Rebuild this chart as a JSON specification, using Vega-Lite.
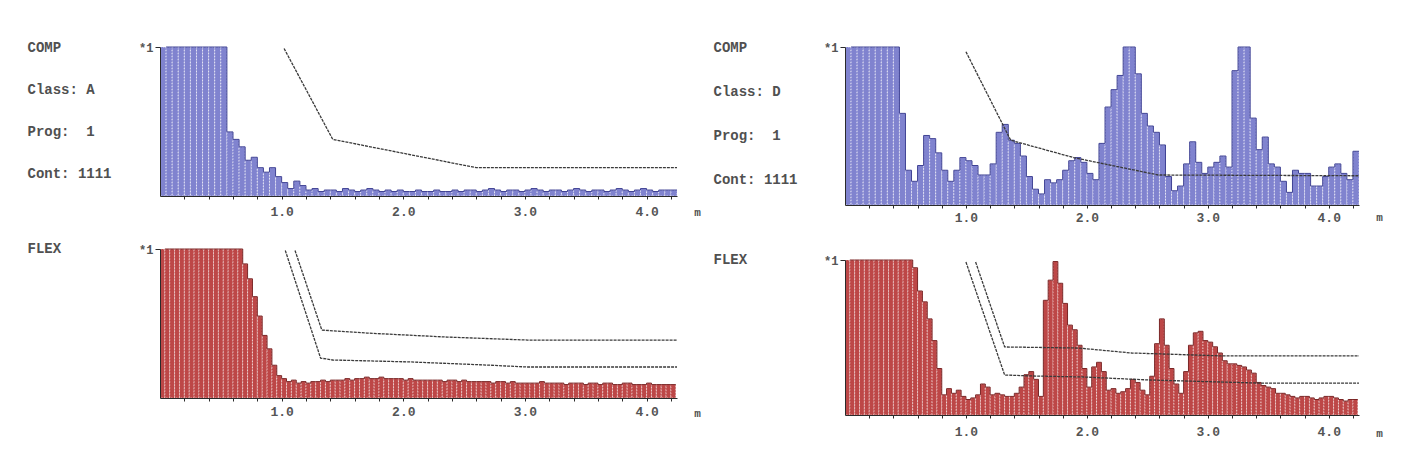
{
  "$schema": "https://vega.github.io/schema/vega-lite/v6.json",
  "background": "white",
  "padding": {"left": 27, "top": 40, "right": 10, "bottom": 10},
  "config": {
    "view": {"stroke": null},
    "axis": {"grid": false, "domainColor": "#2b2b2b", "tickColor": "#2b2b2b", "labelFont": "Liberation Mono", "labelFontSize": 13, "labelFontWeight": "bold", "labelColor": "#555555", "titleFont": "Liberation Mono", "titleFontSize": 14, "titleFontWeight": "bold", "titleColor": "#505050", "labelFlush": false}
  },
  "datasets": {
    "compA": [
      {"s":0,"e":0.05,"v":1},{"s":0.05,"e":0.1,"v":1},{"s":0.1,"e":0.15,"v":1},{"s":0.15,"e":0.2,"v":1},{"s":0.2,"e":0.25,"v":1},
      {"s":0.25,"e":0.3,"v":1},{"s":0.3,"e":0.35,"v":1},{"s":0.35,"e":0.4,"v":1},{"s":0.4,"e":0.45,"v":1},{"s":0.45,"e":0.5,"v":1},
      {"s":0.5,"e":0.55,"v":1},{"s":0.55,"e":0.6,"v":0.43},{"s":0.6,"e":0.65,"v":0.38},{"s":0.65,"e":0.7,"v":0.33},{"s":0.7,"e":0.75,"v":0.24},
      {"s":0.75,"e":0.8,"v":0.26},{"s":0.8,"e":0.85,"v":0.19},{"s":0.85,"e":0.9,"v":0.16},{"s":0.9,"e":0.95,"v":0.19},{"s":0.95,"e":1,"v":0.13},
      {"s":1,"e":1.05,"v":0.09},{"s":1.05,"e":1.1,"v":0.05},{"s":1.1,"e":1.15,"v":0.1},{"s":1.15,"e":1.2,"v":0.07},{"s":1.2,"e":1.25,"v":0.04},
      {"s":1.25,"e":1.3,"v":0.05},{"s":1.3,"e":1.35,"v":0.03},{"s":1.35,"e":1.4,"v":0.04},{"s":1.4,"e":1.45,"v":0.04},{"s":1.45,"e":1.5,"v":0.03},
      {"s":1.5,"e":1.55,"v":0.05},{"s":1.55,"e":1.6,"v":0.04},{"s":1.6,"e":1.65,"v":0.03},{"s":1.65,"e":1.7,"v":0.04},{"s":1.7,"e":1.75,"v":0.05},
      {"s":1.75,"e":1.8,"v":0.04},{"s":1.8,"e":1.85,"v":0.03},{"s":1.85,"e":1.9,"v":0.04},{"s":1.9,"e":1.95,"v":0.03},{"s":1.95,"e":2,"v":0.04},
      {"s":2,"e":2.05,"v":0.03},{"s":2.05,"e":2.1,"v":0.03},{"s":2.1,"e":2.15,"v":0.04},{"s":2.15,"e":2.2,"v":0.03},{"s":2.2,"e":2.25,"v":0.03},
      {"s":2.25,"e":2.3,"v":0.04},{"s":2.3,"e":2.35,"v":0.03},{"s":2.35,"e":2.4,"v":0.03},{"s":2.4,"e":2.45,"v":0.04},{"s":2.45,"e":2.5,"v":0.03},
      {"s":2.5,"e":2.55,"v":0.04},{"s":2.55,"e":2.6,"v":0.04},{"s":2.6,"e":2.65,"v":0.03},{"s":2.65,"e":2.7,"v":0.04},{"s":2.7,"e":2.75,"v":0.05},
      {"s":2.75,"e":2.8,"v":0.04},{"s":2.8,"e":2.85,"v":0.03},{"s":2.85,"e":2.9,"v":0.04},{"s":2.9,"e":2.95,"v":0.04},{"s":2.95,"e":3,"v":0.03},
      {"s":3,"e":3.05,"v":0.04},{"s":3.05,"e":3.1,"v":0.05},{"s":3.1,"e":3.15,"v":0.04},{"s":3.15,"e":3.2,"v":0.03},{"s":3.2,"e":3.25,"v":0.04},
      {"s":3.25,"e":3.3,"v":0.04},{"s":3.3,"e":3.35,"v":0.03},{"s":3.35,"e":3.4,"v":0.04},{"s":3.4,"e":3.45,"v":0.05},{"s":3.45,"e":3.5,"v":0.04},
      {"s":3.5,"e":3.55,"v":0.03},{"s":3.55,"e":3.6,"v":0.04},{"s":3.6,"e":3.65,"v":0.04},{"s":3.65,"e":3.7,"v":0.03},{"s":3.7,"e":3.75,"v":0.04},
      {"s":3.75,"e":3.8,"v":0.05},{"s":3.8,"e":3.85,"v":0.04},{"s":3.85,"e":3.9,"v":0.03},{"s":3.9,"e":3.95,"v":0.04},{"s":3.95,"e":4,"v":0.05},
      {"s":4,"e":4.05,"v":0.04},{"s":4.05,"e":4.1,"v":0.03},{"s":4.1,"e":4.15,"v":0.04},{"s":4.15,"e":4.2,"v":0.04},{"s":4.2,"e":4.25,"v":0.04}
    ],
    "compD": [
      {"s":0,"e":0.05,"v":1},{"s":0.05,"e":0.1,"v":1},{"s":0.1,"e":0.15,"v":1},{"s":0.15,"e":0.2,"v":1},{"s":0.2,"e":0.25,"v":1},
      {"s":0.25,"e":0.3,"v":1},{"s":0.3,"e":0.35,"v":1},{"s":0.35,"e":0.4,"v":1},{"s":0.4,"e":0.45,"v":1},{"s":0.45,"e":0.5,"v":0.58},
      {"s":0.5,"e":0.55,"v":0.22},{"s":0.55,"e":0.6,"v":0.15},{"s":0.6,"e":0.65,"v":0.25},{"s":0.65,"e":0.7,"v":0.44},{"s":0.7,"e":0.75,"v":0.42},
      {"s":0.75,"e":0.8,"v":0.33},{"s":0.8,"e":0.85,"v":0.22},{"s":0.85,"e":0.9,"v":0.15},{"s":0.9,"e":0.95,"v":0.22},{"s":0.95,"e":1,"v":0.3},
      {"s":1,"e":1.05,"v":0.28},{"s":1.05,"e":1.1,"v":0.25},{"s":1.1,"e":1.15,"v":0.19},{"s":1.15,"e":1.2,"v":0.19},{"s":1.2,"e":1.25,"v":0.26},
      {"s":1.25,"e":1.3,"v":0.46},{"s":1.3,"e":1.35,"v":0.51},{"s":1.35,"e":1.4,"v":0.41},{"s":1.4,"e":1.45,"v":0.39},{"s":1.45,"e":1.5,"v":0.31},
      {"s":1.5,"e":1.55,"v":0.18},{"s":1.55,"e":1.6,"v":0.1},{"s":1.6,"e":1.65,"v":0.07},{"s":1.65,"e":1.7,"v":0.16},{"s":1.7,"e":1.75,"v":0.14},
      {"s":1.75,"e":1.8,"v":0.16},{"s":1.8,"e":1.85,"v":0.22},{"s":1.85,"e":1.9,"v":0.28},{"s":1.9,"e":1.95,"v":0.3},{"s":1.95,"e":2,"v":0.27},
      {"s":2,"e":2.05,"v":0.2},{"s":2.05,"e":2.1,"v":0.16},{"s":2.1,"e":2.15,"v":0.39},{"s":2.15,"e":2.2,"v":0.62},{"s":2.2,"e":2.25,"v":0.73},
      {"s":2.25,"e":2.3,"v":0.82},{"s":2.3,"e":2.35,"v":1},{"s":2.35,"e":2.4,"v":1},{"s":2.4,"e":2.45,"v":0.83},{"s":2.45,"e":2.5,"v":0.58},
      {"s":2.5,"e":2.55,"v":0.5},{"s":2.55,"e":2.6,"v":0.46},{"s":2.6,"e":2.65,"v":0.38},{"s":2.65,"e":2.7,"v":0.18},{"s":2.7,"e":2.75,"v":0.09},
      {"s":2.75,"e":2.8,"v":0.12},{"s":2.8,"e":2.85,"v":0.26},{"s":2.85,"e":2.9,"v":0.4},{"s":2.9,"e":2.95,"v":0.27},{"s":2.95,"e":3,"v":0.2},
      {"s":3,"e":3.05,"v":0.24},{"s":3.05,"e":3.1,"v":0.27},{"s":3.1,"e":3.15,"v":0.31},{"s":3.15,"e":3.2,"v":0.24},{"s":3.2,"e":3.25,"v":0.85},
      {"s":3.25,"e":3.3,"v":1},{"s":3.3,"e":3.35,"v":1},{"s":3.35,"e":3.4,"v":0.55},{"s":3.4,"e":3.45,"v":0.35},{"s":3.45,"e":3.5,"v":0.43},
      {"s":3.5,"e":3.55,"v":0.26},{"s":3.55,"e":3.6,"v":0.24},{"s":3.6,"e":3.65,"v":0.15},{"s":3.65,"e":3.7,"v":0.08},{"s":3.7,"e":3.75,"v":0.22},
      {"s":3.75,"e":3.8,"v":0.2},{"s":3.8,"e":3.85,"v":0.2},{"s":3.85,"e":3.9,"v":0.12},{"s":3.9,"e":3.95,"v":0.12},{"s":3.95,"e":4,"v":0.18},
      {"s":4,"e":4.05,"v":0.24},{"s":4.05,"e":4.1,"v":0.26},{"s":4.1,"e":4.15,"v":0.2},{"s":4.15,"e":4.2,"v":0.16},{"s":4.2,"e":4.25,"v":0.34}
    ],
    "flexA": [
      {"s":0,"e":0.04,"v":1},{"s":0.04,"e":0.08,"v":1},{"s":0.08,"e":0.12,"v":1},{"s":0.12,"e":0.16,"v":1},{"s":0.16,"e":0.2,"v":1},
      {"s":0.2,"e":0.24,"v":1},{"s":0.24,"e":0.28,"v":1},{"s":0.28,"e":0.32,"v":1},{"s":0.32,"e":0.36,"v":1},{"s":0.36,"e":0.4,"v":1},
      {"s":0.4,"e":0.44,"v":1},{"s":0.44,"e":0.48,"v":1},{"s":0.48,"e":0.52,"v":1},{"s":0.52,"e":0.56,"v":1},{"s":0.56,"e":0.6,"v":1},
      {"s":0.6,"e":0.64,"v":1},{"s":0.64,"e":0.68,"v":1},{"s":0.68,"e":0.72,"v":0.9},{"s":0.72,"e":0.76,"v":0.8},{"s":0.76,"e":0.8,"v":0.68},
      {"s":0.8,"e":0.84,"v":0.55},{"s":0.84,"e":0.88,"v":0.42},{"s":0.88,"e":0.92,"v":0.33},{"s":0.92,"e":0.96,"v":0.22},{"s":0.96,"e":1,"v":0.15},
      {"s":1,"e":1.04,"v":0.13},{"s":1.04,"e":1.08,"v":0.11},{"s":1.08,"e":1.12,"v":0.12},{"s":1.12,"e":1.16,"v":0.1},{"s":1.16,"e":1.2,"v":0.11},
      {"s":1.2,"e":1.24,"v":0.1},{"s":1.24,"e":1.28,"v":0.11},{"s":1.28,"e":1.32,"v":0.11},{"s":1.32,"e":1.36,"v":0.12},{"s":1.36,"e":1.4,"v":0.11},
      {"s":1.4,"e":1.44,"v":0.12},{"s":1.44,"e":1.48,"v":0.12},{"s":1.48,"e":1.52,"v":0.12},{"s":1.52,"e":1.56,"v":0.13},{"s":1.56,"e":1.6,"v":0.12},
      {"s":1.6,"e":1.64,"v":0.13},{"s":1.64,"e":1.68,"v":0.13},{"s":1.68,"e":1.72,"v":0.14},{"s":1.72,"e":1.76,"v":0.13},{"s":1.76,"e":1.8,"v":0.13},
      {"s":1.8,"e":1.84,"v":0.14},{"s":1.84,"e":1.88,"v":0.13},{"s":1.88,"e":1.92,"v":0.13},{"s":1.92,"e":1.96,"v":0.13},{"s":1.96,"e":2,"v":0.13},
      {"s":2,"e":2.04,"v":0.12},{"s":2.04,"e":2.08,"v":0.13},{"s":2.08,"e":2.12,"v":0.12},{"s":2.12,"e":2.16,"v":0.12},{"s":2.16,"e":2.2,"v":0.12},
      {"s":2.2,"e":2.24,"v":0.12},{"s":2.24,"e":2.28,"v":0.12},{"s":2.28,"e":2.32,"v":0.12},{"s":2.32,"e":2.36,"v":0.11},{"s":2.36,"e":2.4,"v":0.12},
      {"s":2.4,"e":2.44,"v":0.12},{"s":2.44,"e":2.48,"v":0.11},{"s":2.48,"e":2.52,"v":0.12},{"s":2.52,"e":2.56,"v":0.11},{"s":2.56,"e":2.6,"v":0.11},
      {"s":2.6,"e":2.64,"v":0.11},{"s":2.64,"e":2.68,"v":0.11},{"s":2.68,"e":2.72,"v":0.11},{"s":2.72,"e":2.76,"v":0.1},{"s":2.76,"e":2.8,"v":0.11},
      {"s":2.8,"e":2.84,"v":0.11},{"s":2.84,"e":2.88,"v":0.1},{"s":2.88,"e":2.92,"v":0.11},{"s":2.92,"e":2.96,"v":0.1},{"s":2.96,"e":3,"v":0.1},
      {"s":3,"e":3.04,"v":0.1},{"s":3.04,"e":3.08,"v":0.1},{"s":3.08,"e":3.12,"v":0.1},{"s":3.12,"e":3.16,"v":0.11},{"s":3.16,"e":3.2,"v":0.1},
      {"s":3.2,"e":3.24,"v":0.1},{"s":3.24,"e":3.28,"v":0.1},{"s":3.28,"e":3.32,"v":0.1},{"s":3.32,"e":3.36,"v":0.09},{"s":3.36,"e":3.4,"v":0.1},
      {"s":3.4,"e":3.44,"v":0.1},{"s":3.44,"e":3.48,"v":0.1},{"s":3.48,"e":3.52,"v":0.09},{"s":3.52,"e":3.56,"v":0.1},{"s":3.56,"e":3.6,"v":0.1},
      {"s":3.6,"e":3.64,"v":0.09},{"s":3.64,"e":3.68,"v":0.1},{"s":3.68,"e":3.72,"v":0.1},{"s":3.72,"e":3.76,"v":0.09},{"s":3.76,"e":3.8,"v":0.09},
      {"s":3.8,"e":3.84,"v":0.1},{"s":3.84,"e":3.88,"v":0.1},{"s":3.88,"e":3.92,"v":0.09},{"s":3.92,"e":3.96,"v":0.09},{"s":3.96,"e":4,"v":0.09},
      {"s":4,"e":4.04,"v":0.1},{"s":4.04,"e":4.08,"v":0.09},{"s":4.08,"e":4.12,"v":0.09},{"s":4.12,"e":4.16,"v":0.09},{"s":4.16,"e":4.2,"v":0.09},
      {"s":4.2,"e":4.24,"v":0.09}
    ],
    "flexD": [
      {"s":0,"e":0.04,"v":1},{"s":0.04,"e":0.08,"v":1},{"s":0.08,"e":0.12,"v":1},{"s":0.12,"e":0.16,"v":1},{"s":0.16,"e":0.2,"v":1},
      {"s":0.2,"e":0.24,"v":1},{"s":0.24,"e":0.28,"v":1},{"s":0.28,"e":0.32,"v":1},{"s":0.32,"e":0.36,"v":1},{"s":0.36,"e":0.4,"v":1},
      {"s":0.4,"e":0.44,"v":1},{"s":0.44,"e":0.48,"v":1},{"s":0.48,"e":0.52,"v":1},{"s":0.52,"e":0.56,"v":1},{"s":0.56,"e":0.6,"v":0.95},
      {"s":0.6,"e":0.64,"v":0.8},{"s":0.64,"e":0.68,"v":0.73},{"s":0.68,"e":0.72,"v":0.62},{"s":0.72,"e":0.76,"v":0.48},{"s":0.76,"e":0.8,"v":0.3},
      {"s":0.8,"e":0.84,"v":0.13},{"s":0.84,"e":0.88,"v":0.17},{"s":0.88,"e":0.92,"v":0.14},{"s":0.92,"e":0.96,"v":0.16},{"s":0.96,"e":1,"v":0.12},
      {"s":1,"e":1.04,"v":0.1},{"s":1.04,"e":1.08,"v":0.11},{"s":1.08,"e":1.12,"v":0.13},{"s":1.12,"e":1.16,"v":0.2},{"s":1.16,"e":1.2,"v":0.18},
      {"s":1.2,"e":1.24,"v":0.13},{"s":1.24,"e":1.28,"v":0.14},{"s":1.28,"e":1.32,"v":0.13},{"s":1.32,"e":1.36,"v":0.12},{"s":1.36,"e":1.4,"v":0.12},
      {"s":1.4,"e":1.44,"v":0.14},{"s":1.44,"e":1.48,"v":0.18},{"s":1.48,"e":1.52,"v":0.26},{"s":1.52,"e":1.56,"v":0.28},{"s":1.56,"e":1.6,"v":0.23},
      {"s":1.6,"e":1.64,"v":0.12},{"s":1.64,"e":1.68,"v":0.74},{"s":1.68,"e":1.72,"v":0.87},{"s":1.72,"e":1.76,"v":0.99},{"s":1.76,"e":1.8,"v":0.85},
      {"s":1.8,"e":1.84,"v":0.72},{"s":1.84,"e":1.88,"v":0.58},{"s":1.88,"e":1.92,"v":0.55},{"s":1.92,"e":1.96,"v":0.45},{"s":1.96,"e":2,"v":0.3},
      {"s":2,"e":2.04,"v":0.18},{"s":2.04,"e":2.08,"v":0.31},{"s":2.08,"e":2.12,"v":0.34},{"s":2.12,"e":2.16,"v":0.28},{"s":2.16,"e":2.2,"v":0.16},
      {"s":2.2,"e":2.24,"v":0.17},{"s":2.24,"e":2.28,"v":0.14},{"s":2.28,"e":2.32,"v":0.15},{"s":2.32,"e":2.36,"v":0.17},{"s":2.36,"e":2.4,"v":0.23},
      {"s":2.4,"e":2.44,"v":0.21},{"s":2.44,"e":2.48,"v":0.16},{"s":2.48,"e":2.52,"v":0.13},{"s":2.52,"e":2.56,"v":0.25},{"s":2.56,"e":2.6,"v":0.46},
      {"s":2.6,"e":2.64,"v":0.62},{"s":2.64,"e":2.68,"v":0.45},{"s":2.68,"e":2.72,"v":0.3},{"s":2.72,"e":2.76,"v":0.2},{"s":2.76,"e":2.8,"v":0.14},
      {"s":2.8,"e":2.84,"v":0.28},{"s":2.84,"e":2.88,"v":0.45},{"s":2.88,"e":2.92,"v":0.53},{"s":2.92,"e":2.96,"v":0.54},{"s":2.96,"e":3,"v":0.48},
      {"s":3,"e":3.04,"v":0.47},{"s":3.04,"e":3.08,"v":0.44},{"s":3.08,"e":3.12,"v":0.4},{"s":3.12,"e":3.16,"v":0.35},{"s":3.16,"e":3.2,"v":0.33},
      {"s":3.2,"e":3.24,"v":0.33},{"s":3.24,"e":3.28,"v":0.32},{"s":3.28,"e":3.32,"v":0.31},{"s":3.32,"e":3.36,"v":0.29},{"s":3.36,"e":3.4,"v":0.27},
      {"s":3.4,"e":3.44,"v":0.21},{"s":3.44,"e":3.48,"v":0.19},{"s":3.48,"e":3.52,"v":0.18},{"s":3.52,"e":3.56,"v":0.17},{"s":3.56,"e":3.6,"v":0.14},
      {"s":3.6,"e":3.64,"v":0.14},{"s":3.64,"e":3.68,"v":0.13},{"s":3.68,"e":3.72,"v":0.12},{"s":3.72,"e":3.76,"v":0.11},{"s":3.76,"e":3.8,"v":0.12},
      {"s":3.8,"e":3.84,"v":0.12},{"s":3.84,"e":3.88,"v":0.11},{"s":3.88,"e":3.92,"v":0.1},{"s":3.92,"e":3.96,"v":0.11},{"s":3.96,"e":4,"v":0.12},
      {"s":4,"e":4.04,"v":0.12},{"s":4.04,"e":4.08,"v":0.11},{"s":4.08,"e":4.12,"v":0.1},{"s":4.12,"e":4.16,"v":0.09},{"s":4.16,"e":4.2,"v":0.1},
      {"s":4.2,"e":4.24,"v":0.1}
    ],
    "thrCompA": [
      {"x":1.02,"v":0.99,"l":"a"},{"x":1.42,"v":0.38,"l":"a"},{"x":2.6,"v":0.19,"l":"a"},{"x":4.25,"v":0.19,"l":"a"}
    ],
    "thrCompD": [
      {"x":1.0,"v":0.97,"l":"a"},{"x":1.37,"v":0.41,"l":"a"},{"x":1.89,"v":0.3,"l":"a"},{"x":2.59,"v":0.19,"l":"a"},{"x":4.25,"v":0.185,"l":"a"}
    ],
    "thrFlexA": [
      {"x":1.03,"v":0.99,"l":"a"},{"x":1.32,"v":0.268,"l":"a"},{"x":1.42,"v":0.255,"l":"a"},{"x":2.06,"v":0.242,"l":"a"},{"x":2.69,"v":0.221,"l":"a"},{"x":3.02,"v":0.208,"l":"a"},{"x":4.25,"v":0.208,"l":"a"},
      {"x":1.11,"v":0.99,"l":"b"},{"x":1.33,"v":0.456,"l":"b"},{"x":1.7,"v":0.436,"l":"b"},{"x":2.36,"v":0.409,"l":"b"},{"x":3.02,"v":0.389,"l":"b"},{"x":4.25,"v":0.389,"l":"b"}
    ],
    "thrFlexD": [
      {"x":1.0,"v":0.987,"l":"a"},{"x":1.32,"v":0.258,"l":"a"},{"x":1.54,"v":0.252,"l":"a"},{"x":1.98,"v":0.245,"l":"a"},{"x":2.51,"v":0.226,"l":"a"},{"x":3.42,"v":0.206,"l":"a"},{"x":4.25,"v":0.206,"l":"a"},
      {"x":1.08,"v":0.987,"l":"b"},{"x":1.32,"v":0.439,"l":"b"},{"x":1.93,"v":0.432,"l":"b"},{"x":2.37,"v":0.4,"l":"b"},{"x":3.13,"v":0.381,"l":"b"},{"x":4.25,"v":0.381,"l":"b"}
    ]
  },
  "spacing": 12,
  "bounds": "full",
  "hconcat": [
    {
      "spacing": 53,
      "bounds": "flush",
      "vconcat": [
        {
          "width": 517, "height": 149,
          "resolve": {"axis": {"x": "independent"}},
          "layer": [
            {"data": {"name": "compA"},
             "mark": {"type": "bar", "fill": "#8083cf", "stroke": "#ffffff", "strokeWidth": 0.8, "strokeDash": [1.5, 1.5], "strokeOpacity": 0.8},
             "encoding": {
               "x": {"field": "s", "type": "quantitative", "scale": {"domain": [0, 4.25], "nice": false, "zero": false},
                     "axis": {"orient": "bottom", "values": [1, 2, 3, 4], "format": ".1f", "tickSize": 3, "labelPadding": 6, "labelDx": 2, "zindex": 1,
                              "title": "m", "titleX": 537, "titleY": 16, "titleAlign": "center", "titleBaseline": "middle", "titleFontSize": 11}},
               "x2": {"field": "e"},
               "y": {"field": "v", "type": "quantitative", "scale": {"domain": [0, 1], "nice": false},
                     "axis": {"values": [1], "labelExpr": "'*1'", "tickSize": 5, "labelPadding": 2, "labelFontSize": 12, "zindex": 1,
                              "title": ["COMP", "\u00a0Class: A", "\u00a0Prog:\u00a0\u00a01", "\u00a0Cont: 1111"], "titleX": -133, "titleY": 4, "titleAngle": 0, "titleAlign": "left", "titleBaseline": "alphabetic", "titleLineHeight": 42}},
               "y2": {"datum": 0}
             }},
            {"data": {"name": "compA"}, "mark": {"type": "line", "interpolate": "step-before", "color": "#3f4294", "strokeWidth": 1},
             "encoding": {"x": {"field": "e", "type": "quantitative",
                                "axis": {"orient": "bottom", "values": [0.2,0.4,0.6,0.8,1.2,1.4,1.6,1.8,2.2,2.4,2.6,2.8,3.2,3.4,3.6,3.8,4.2], "labels": false, "domain": false, "tickSize": 3, "title": null, "zindex": 1}},
                          "y": {"field": "v", "type": "quantitative"}}},
            {"data": {"name": "thrCompA"}, "mark": {"type": "line", "color": "#3a3a3a", "strokeWidth": 1.3, "strokeDash": [3, 1]},
             "encoding": {"x": {"field": "x", "type": "quantitative", "axis": null}, "y": {"field": "v", "type": "quantitative"}, "detail": {"field": "l", "type": "nominal"}}}
          ]
        },
        {
          "width": 517, "height": 149,
          "resolve": {"axis": {"x": "independent"}},
          "layer": [
            {"data": {"name": "flexA"},
             "mark": {"type": "bar", "fill": "#bd4747", "stroke": "#ffffff", "strokeWidth": 0.8, "strokeDash": [1.5, 1.5], "strokeOpacity": 0.75},
             "encoding": {
               "x": {"field": "s", "type": "quantitative", "scale": {"domain": [0, 4.25], "nice": false, "zero": false},
                     "axis": {"orient": "bottom", "values": [1, 2, 3, 4], "format": ".1f", "tickSize": 3, "labelPadding": 4, "labelDx": 2, "zindex": 1,
                              "title": "m", "titleX": 537, "titleY": 15, "titleAlign": "center", "titleBaseline": "middle", "titleFontSize": 11}},
               "x2": {"field": "e"},
               "y": {"field": "v", "type": "quantitative", "scale": {"domain": [0, 1], "nice": false},
                     "axis": {"values": [1], "labelExpr": "'*1'", "tickSize": 5, "labelPadding": 2, "labelFontSize": 12, "zindex": 1,
                              "title": "FLEX", "titleX": -133, "titleY": 3, "titleAngle": 0, "titleAlign": "left", "titleBaseline": "alphabetic"}},
               "y2": {"datum": 0}
             }},
            {"data": {"name": "flexA"}, "mark": {"type": "line", "interpolate": "step-before", "color": "#7a2525", "strokeWidth": 1},
             "encoding": {"x": {"field": "e", "type": "quantitative",
                                "axis": {"orient": "bottom", "values": [0.2,0.4,0.6,0.8,1.2,1.4,1.6,1.8,2.2,2.4,2.6,2.8,3.2,3.4,3.6,3.8,4.2], "labels": false, "domain": false, "tickSize": 3, "title": null, "zindex": 1}},
                          "y": {"field": "v", "type": "quantitative"}}},
            {"data": {"name": "thrFlexA"}, "mark": {"type": "line", "color": "#3a3a3a", "strokeWidth": 1.3, "strokeDash": [3, 1]},
             "encoding": {"x": {"field": "x", "type": "quantitative", "axis": null}, "y": {"field": "v", "type": "quantitative"}, "detail": {"field": "l", "type": "nominal"}}}
          ]
        }
      ]
    },
    {
      "spacing": 55,
      "bounds": "flush",
      "vconcat": [
        {
          "width": 514, "height": 158,
          "resolve": {"axis": {"x": "independent"}},
          "layer": [
            {"data": {"name": "compD"},
             "mark": {"type": "bar", "fill": "#8083cf", "stroke": "#ffffff", "strokeWidth": 0.8, "strokeDash": [1.5, 1.5], "strokeOpacity": 0.8},
             "encoding": {
               "x": {"field": "s", "type": "quantitative", "scale": {"domain": [0, 4.25], "nice": false, "zero": false},
                     "axis": {"orient": "bottom", "values": [1, 2, 3, 4], "format": ".1f", "tickSize": 3, "labelPadding": 3, "labelDx": 2, "zindex": 1,
                              "title": "m", "titleX": 534, "titleY": 12, "titleAlign": "center", "titleBaseline": "middle", "titleFontSize": 11}},
               "x2": {"field": "e"},
               "y": {"field": "v", "type": "quantitative", "scale": {"domain": [0, 1], "nice": false},
                     "axis": {"values": [1], "labelExpr": "'*1'", "tickSize": 5, "labelPadding": 2, "labelFontSize": 12, "zindex": 1,
                              "title": ["COMP", "\u00a0Class: D", "\u00a0Prog:\u00a0\u00a01", "\u00a0Cont: 1111"], "titleX": -132, "titleY": 4, "titleAngle": 0, "titleAlign": "left", "titleBaseline": "alphabetic", "titleLineHeight": 44}},
               "y2": {"datum": 0}
             }},
            {"data": {"name": "compD"}, "mark": {"type": "line", "interpolate": "step-before", "color": "#3f4294", "strokeWidth": 1},
             "encoding": {"x": {"field": "e", "type": "quantitative",
                                "axis": {"orient": "bottom", "values": [0.2,0.4,0.6,0.8,1.2,1.4,1.6,1.8,2.2,2.4,2.6,2.8,3.2,3.4,3.6,3.8,4.2], "labels": false, "domain": false, "tickSize": 3, "title": null, "zindex": 1}},
                          "y": {"field": "v", "type": "quantitative"}}},
            {"data": {"name": "thrCompD"}, "mark": {"type": "line", "color": "#3a3a3a", "strokeWidth": 1.3, "strokeDash": [3, 1]},
             "encoding": {"x": {"field": "x", "type": "quantitative", "axis": null}, "y": {"field": "v", "type": "quantitative"}, "detail": {"field": "l", "type": "nominal"}}}
          ]
        },
        {
          "width": 514, "height": 155,
          "resolve": {"axis": {"x": "independent"}},
          "layer": [
            {"data": {"name": "flexD"},
             "mark": {"type": "bar", "fill": "#bd4747", "stroke": "#ffffff", "strokeWidth": 0.8, "strokeDash": [1.5, 1.5], "strokeOpacity": 0.75},
             "encoding": {
               "x": {"field": "s", "type": "quantitative", "scale": {"domain": [0, 4.25], "nice": false, "zero": false},
                     "axis": {"orient": "bottom", "values": [1, 2, 3, 4], "format": ".1f", "tickSize": 3, "labelPadding": 7, "labelDx": 2, "zindex": 1,
                              "title": "m", "titleX": 534, "titleY": 18, "titleAlign": "center", "titleBaseline": "middle", "titleFontSize": 11}},
               "x2": {"field": "e"},
               "y": {"field": "v", "type": "quantitative", "scale": {"domain": [0, 1], "nice": false},
                     "axis": {"values": [1], "labelExpr": "'*1'", "tickSize": 5, "labelPadding": 2, "labelFontSize": 12, "zindex": 1,
                              "title": "FLEX", "titleX": -132, "titleY": 3, "titleAngle": 0, "titleAlign": "left", "titleBaseline": "alphabetic"}},
               "y2": {"datum": 0}
             }},
            {"data": {"name": "flexD"}, "mark": {"type": "line", "interpolate": "step-before", "color": "#7a2525", "strokeWidth": 1},
             "encoding": {"x": {"field": "e", "type": "quantitative",
                                "axis": {"orient": "bottom", "values": [0.2,0.4,0.6,0.8,1.2,1.4,1.6,1.8,2.2,2.4,2.6,2.8,3.2,3.4,3.6,3.8,4.2], "labels": false, "domain": false, "tickSize": 3, "title": null, "zindex": 1}},
                          "y": {"field": "v", "type": "quantitative"}}},
            {"data": {"name": "thrFlexD"}, "mark": {"type": "line", "color": "#3a3a3a", "strokeWidth": 1.3, "strokeDash": [3, 1]},
             "encoding": {"x": {"field": "x", "type": "quantitative", "axis": null}, "y": {"field": "v", "type": "quantitative"}, "detail": {"field": "l", "type": "nominal"}}}
          ]
        }
      ]
    }
  ]
}
